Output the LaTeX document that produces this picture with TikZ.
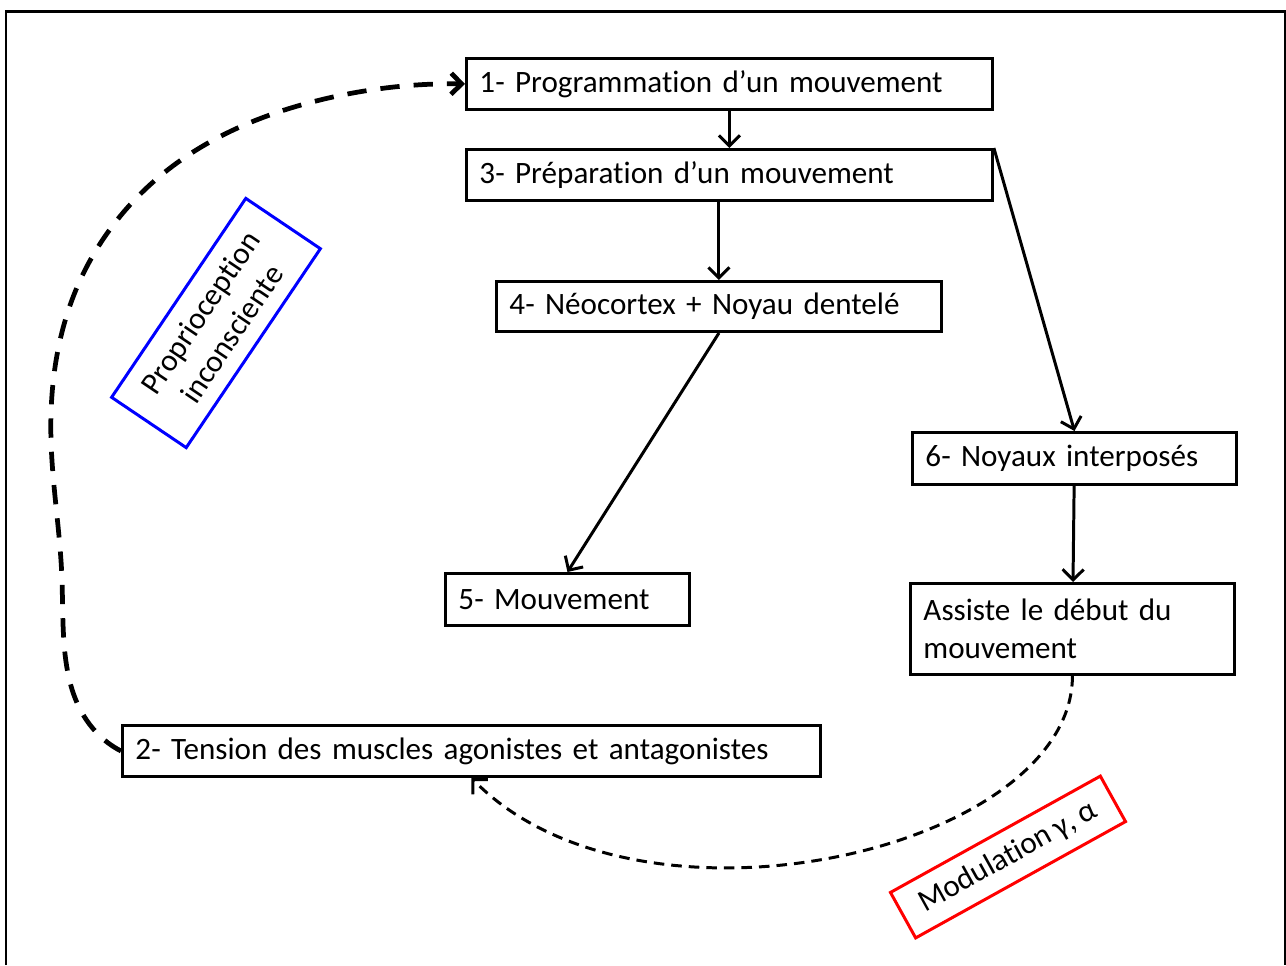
\documentclass[tikz,border=0pt]{standalone}
\usepackage{fontspec}
\setmainfont{Carlito}[Ligatures=NoCommon,WordSpace=0.85]
\usetikzlibrary{arrows.meta, positioning, hobby}

\begin{document}
\begin{tikzpicture}[x=0.02cm,y=-0.02cm,line width=1.7pt,
                    >={Straight Barb[length=6pt,width=12pt]},
                    font=\fontsize{17.7}{21.6}\selectfont,
                    main node/.style={draw,anchor=north west,inner xsep=0.26cm,inner ysep=0pt,
                                      align=left,minimum height=1.02cm},
                    tilt node/.style={draw,align=center,inner sep=0pt},
                    loop line/.style={->,line width=2.7pt,dash pattern=on 11pt off 8pt},
                    back line/.style={->,line width=1.7pt,dash pattern=on 6pt off 4pt}]

  \useasboundingbox (0,0) rectangle (1286,965);
  \draw[line width=1.7pt] (6,965) |- (1285,11) -- (1285,965);

  \node[main node,text width=10cm] (1) at (465,57) {1- Programmation d’un mouvement};
  \node[main node,text width=10cm] (3) at (465,148) {3- Préparation d’un mouvement};
  \node[main node,text width=8.38cm,minimum height=1cm] (4) at (495,280) {4- Néocortex + Noyau dentelé};
  \node[main node,text width=4.36cm,minimum height=1.04cm] (5) at (444,572) {5- Mouvement};
  \node[main node,text width=5.96cm,minimum height=1.04cm] (6) at (911,431) {6- Noyaux interposés};
  \node[main node,text width=5.96cm,minimum height=1.82cm] (7) at (909,582) {Assiste le début du\\mouvement};
  \node[main node,text width=13.44cm] (2) at (121,724) {2- Tension des muscles agonistes et antagonistes};

  \node[tilt node,draw=blue,rotate=56,minimum width=4.8cm,minimum height=1.8cm] (8) at (216,323)
    {Proprioception\\inconsciente};
  \node[tilt node,draw=red,rotate=29,minimum width=4.8cm,minimum height=1.04cm] (9) at (1008,857)
    {Modulation γ, α};

  \path[->]
    (1) edge (3)
    (3.south -| 4) edge (4)
    (3.north east) edge (6.north)
    (4.south) edge (5.north)
    (6) edge (7);

  \draw[back line] (7.south) .. controls (1072,850) and (640,950) .. (2.south);
  \draw[loop line,use Hobby shortcut] (2.west) .. (96,732) .. (62,580) .. (51,440)
    .. (78,285) .. (165,172) .. (320,100) .. (1.west);

\end{tikzpicture}
\end{document}
